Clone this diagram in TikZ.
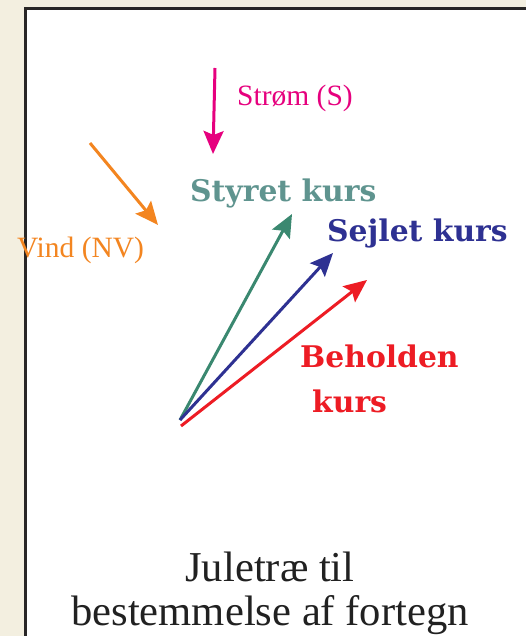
\documentclass[tikz,border=0pt]{standalone}
\usepackage{fontspec}
\setmainfont{Liberation Serif}
\newfontfamily\slabfont{DejaVu Serif}
\usetikzlibrary{arrows.meta}

\definecolor{beige}{RGB}{243,239,224}
\definecolor{frame}{RGB}{40,38,38}
\definecolor{strom}{RGB}{230,0,126}
\definecolor{vind}{RGB}{243,133,32}
\definecolor{styretline}{RGB}{58,136,112}
\definecolor{styrettext}{RGB}{95,148,143}
\definecolor{sejlet}{RGB}{46,49,146}
\definecolor{beholden}{RGB}{237,28,36}

\tikzset{
  vec/.style={line width=3pt,-{Stealth[length=23pt,width=20pt,inset=4pt]}},
  plain/.style={inner sep=0pt,anchor=base west,font=\fontsize{29.5}{32}\selectfont},
  kurs/.style={inner sep=0pt,anchor=base west,font=\slabfont\bfseries\fontsize{29.8}{45}\selectfont},
}

\begin{document}
\begin{tikzpicture}[x=1pt,y=-1pt]
      \useasboundingbox (0,0) rectangle (526,636);
      \clip (0,0) rectangle (526,636);
      \fill[beige] (0,0) rectangle (526,636);
      \draw[frame,line width=3pt,fill=white] (25.5,8.5) rectangle (560,680);
      % forces
      \coordinate (stroma) at (215,68);
      \coordinate (stromb) at (213,154);
      \coordinate (vinda) at (90,143);
      \coordinate (vindb) at (158,225);
      \node[plain,strom] (strom) at (237,106) {Strøm (S)};
      \node[plain,vind] (vind) at (17,257) {Vind (NV)};
      \draw[vec,strom] (stroma) -- (stromb);
      \draw[vec,vind] (vinda) -- (vindb);
      % courses
      \coordinate (o) at (180,420);
      \coordinate (styretb) at (292,214);
      \coordinate (sejletb) at (333,253);
      \coordinate (beholdenb) at (367,280);
      \node[kurs,styrettext] (styret) at (190,201) {Styret kurs};
      \node[kurs,sejlet] (sejlet) at (327,241) {Sejlet kurs};
      \node[kurs,beholden,align=left] (beholden) at (300,412) {Beholden\\\hspace*{12pt}kurs};
      \draw[vec,styretline] (o) -- (styretb);
      \draw[vec,sejlet] (o) -- (sejletb);
      \draw[vec,beholden] ([shift={(1,6)}]o) -- (beholdenb);
      \node[align=center,inner sep=0pt,text=black!87,font=\fontsize{42.6}{44}\selectfont] (title) at (270,593) {Juletræ til\\bestemmelse af fortegn};
    \end{tikzpicture}
\end{document}
